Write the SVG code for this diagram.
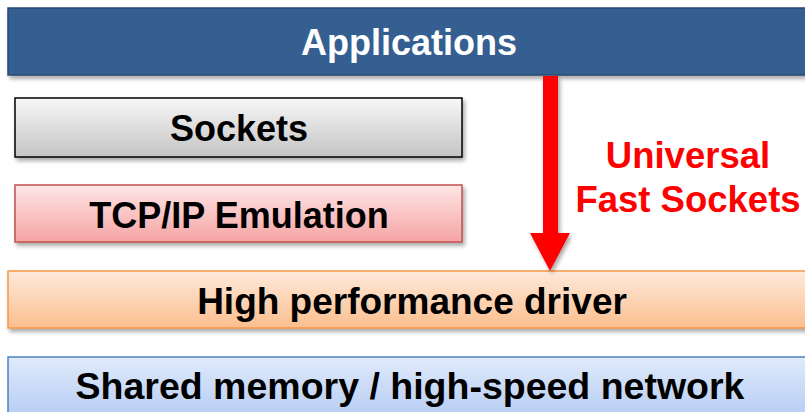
<svg xmlns="http://www.w3.org/2000/svg" width="805" height="412" viewBox="0 0 805 412">
<defs>
<filter id="sh" x="-5%" y="-20%" width="110%" height="150%">
<feDropShadow dx="2" dy="3" stdDeviation="2" flood-color="#000" flood-opacity="0.35"/>
</filter>
<linearGradient id="gGray" x1="0" y1="0" x2="0" y2="1"><stop offset="0" stop-color="#F7F7F7"/><stop offset="1" stop-color="#C4C4C4"/></linearGradient>
<linearGradient id="gPink" x1="0" y1="0" x2="0" y2="1"><stop offset="0" stop-color="#FFE6E6"/><stop offset="1" stop-color="#F5A3A3"/></linearGradient>
<linearGradient id="gOrange" x1="0" y1="0" x2="0" y2="1"><stop offset="0" stop-color="#FEEADB"/><stop offset="1" stop-color="#FBBE8E"/></linearGradient>
<linearGradient id="gBlue" x1="0" y1="0" x2="0" y2="1"><stop offset="0" stop-color="#E0EAFB"/><stop offset="1" stop-color="#AFC8F2"/></linearGradient>
</defs>
<style>
.t{font-family:"Liberation Sans",Arial,sans-serif;font-weight:bold;font-size:36px;text-anchor:middle;fill:#000}
.red{font-family:"Liberation Sans",Arial,sans-serif;font-weight:bold;font-size:36.5px;text-anchor:middle;fill:#FF0000}
</style>
<rect width="805" height="412" fill="#fff"/>
<g id="applications">
<rect x="8" y="8" width="810" height="67" fill="#365F91" stroke="#2A4A73" stroke-width="1.5" filter="url(#sh)"/>
<text class="t" x="409" y="55" style="fill:#fff">Applications</text>
</g>
<g id="sockets">
<rect x="15" y="98" width="447" height="59" fill="url(#gGray)" stroke="#000" stroke-width="1.5" filter="url(#sh)"/>
<text class="t" x="239" y="141">Sockets</text>
</g>
<g id="tcpip">
<rect x="15" y="185" width="447" height="57" fill="url(#gPink)" stroke="#C0504D" stroke-width="1.5" filter="url(#sh)"/>
<text class="t" x="239" y="228">TCP/IP Emulation</text>
</g>
<g id="driver">
<rect x="8" y="271" width="810" height="57" fill="url(#gOrange)" stroke="#F79646" stroke-width="1.5" filter="url(#sh)"/>
<text class="t" x="412" y="314" style="font-size:37px">High performance driver</text>
</g>
<g id="network">
<rect x="8" y="357" width="810" height="70" fill="url(#gBlue)" stroke="#4F81BD" stroke-width="1.5"/>
<text class="t" x="410" y="399" style="font-size:37.5px">Shared memory / high-speed network</text>
</g>
<g id="connectors">
<polygon points="543,76 558,76 558,233 570,233 550,271 530,233 543,233" fill="#FF0000" filter="url(#sh)"/>
</g>
<g id="label">
<text class="red" x="688" y="168">Universal</text>
<text class="red" x="688" y="212">Fast Sockets</text>
</g>
</svg>
